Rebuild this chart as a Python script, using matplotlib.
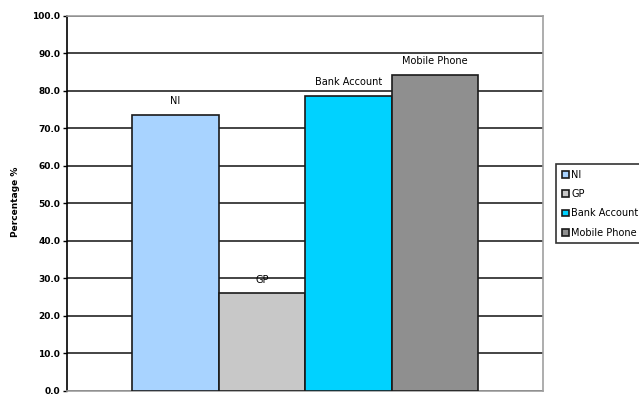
import matplotlib.pyplot as plt
import numpy as np

plt.rcParams['font.family'] = ['DejaVu Sans']

# данные
series = ["NI", "GP", "Bank Account", "Mobile Phone"]
values = [73.6, 26.0, 78.7, 84.3]
colors = ["#a8d3ff", "#c8c8c8", "#00d2ff", "#8f8f8f"]
yticks = np.arange(0, 101, 10)

fig = plt.figure(figsize=(6.39, 4.03), dpi=100)
ax = fig.add_axes([0.1049, 0.0298, 0.7449, 0.9305])

w = 0.727 / len(series)
offsets = (np.arange(len(series)) - (len(series) - 1) / 2) * w
for off, v, c, name in zip(offsets, values, colors, series):
    ax.bar(off, v, width=w, color=c, edgecolor="#1a1a1a", linewidth=1.2,
           label=name, zorder=3)
    ax.annotate(name, (off, v), xytext=(0, 10), textcoords="offset points",
                ha="center", va="center", fontsize=7)

ax.set_xlim(-0.5, 0.5)
ax.set_ylim(0, 100)
ax.set_yticks(yticks)
ax.set_yticklabels([f"{t:.1f}" for t in yticks], fontsize=6.5, fontweight="bold")
ax.set_xticks([])
ax.tick_params(axis="y", length=3, width=1, pad=2)
ax.grid(axis="y", color="#111111", linewidth=1.1, zorder=0)
ax.set_axisbelow(True)

for s in ["top", "right", "bottom"]:
    ax.spines[s].set_color("#a0a0a0")
    ax.spines[s].set_linewidth(1.2)
ax.spines["left"].set_color("black")
ax.spines["left"].set_linewidth(1.2)

fig.text(0.024, 0.5, "Percentage %", rotation=90, ha="center", va="center",
         fontsize=6.5, fontweight="bold")

leg = fig.legend(loc="upper left", bbox_to_anchor=(0.870, 0.593),
                 fontsize=7, frameon=True, fancybox=False,
                 handlelength=0.7, handleheight=0.7, handletextpad=0.3,
                 labelspacing=0.95, borderpad=0.6, borderaxespad=0,
                 edgecolor="black")
leg.get_frame().set_linewidth(1.2)

fig.savefig("out.png", dpi=100)
